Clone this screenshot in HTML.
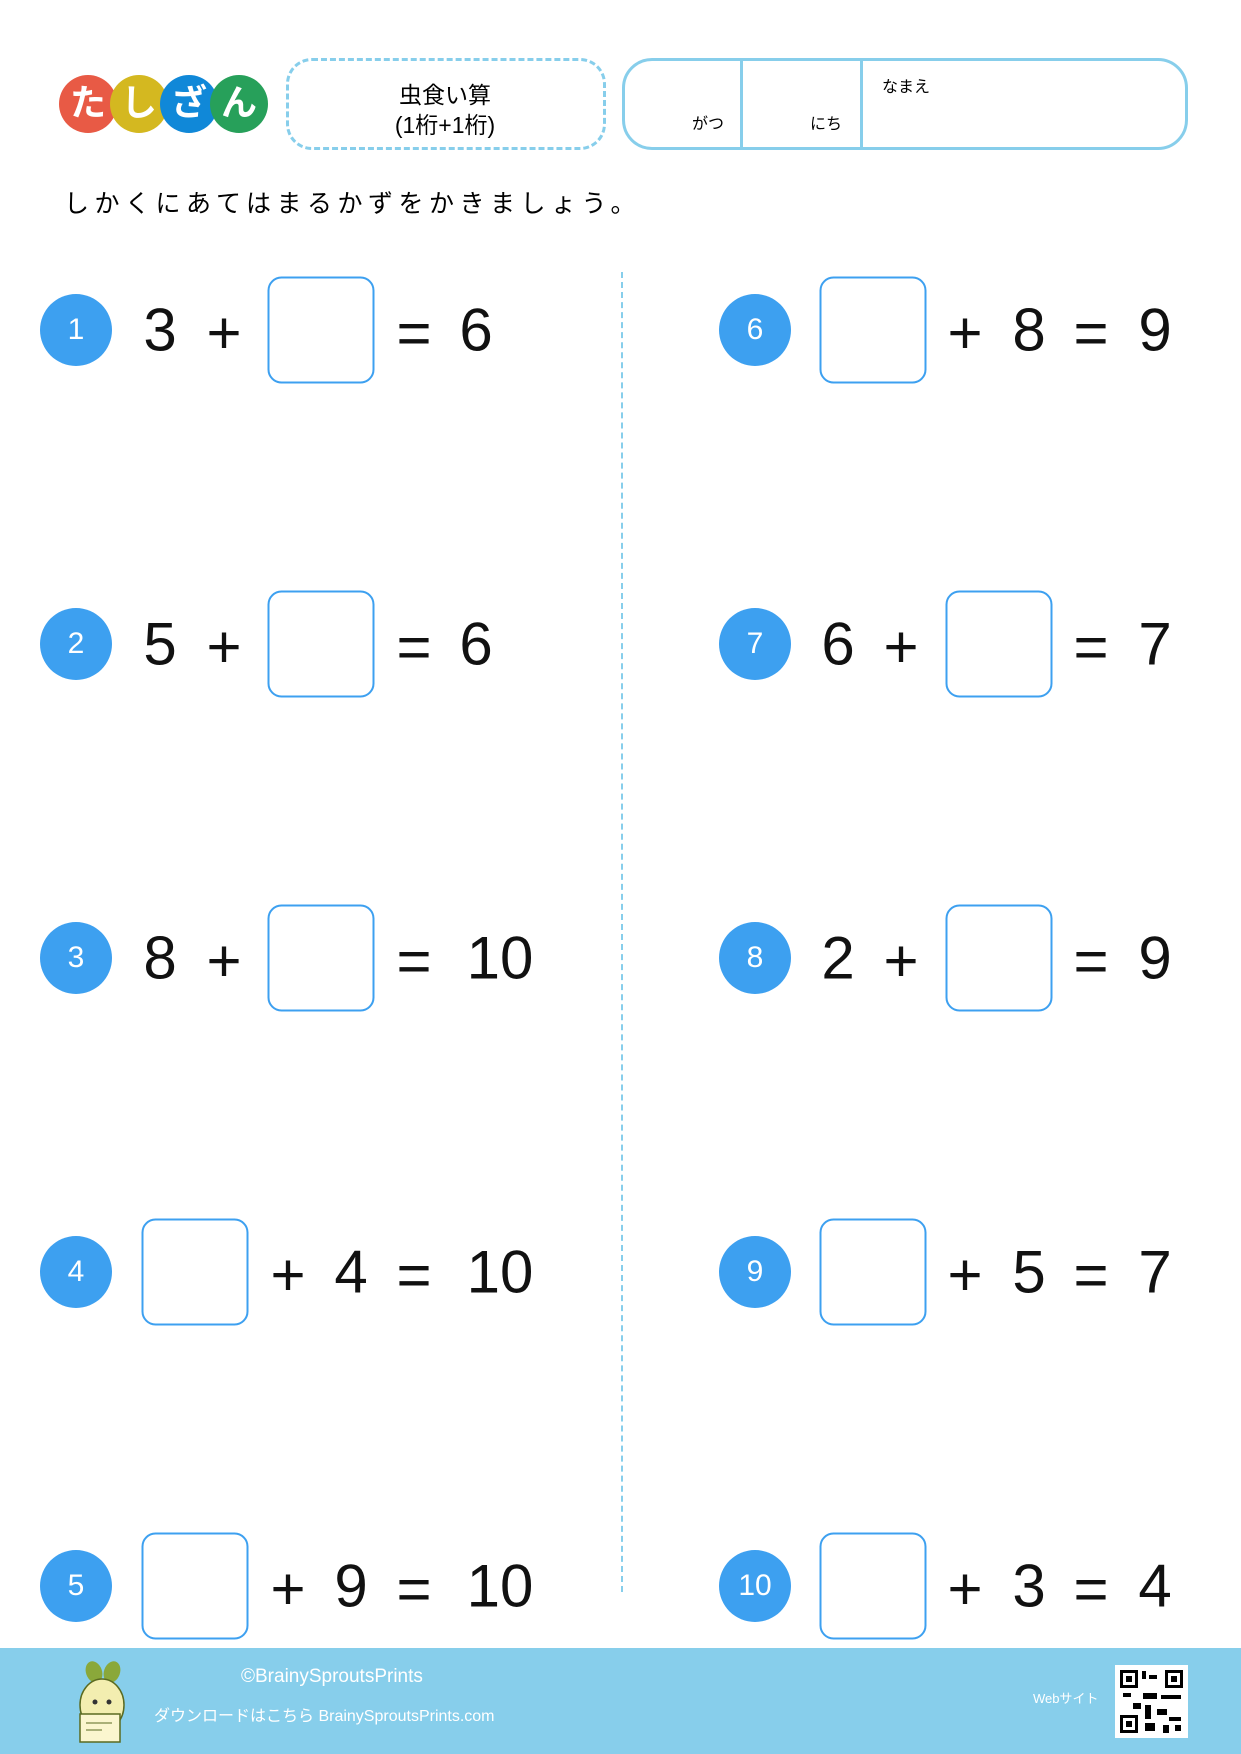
<!DOCTYPE html>
<html><head><meta charset="utf-8"><style>
body{margin:0;width:1241px;height:1754px;position:relative;background:#fff;font-family:"Liberation Sans","Noto Sans CJK JP",sans-serif;overflow:hidden}
.a{position:absolute}
.c{position:absolute;transform:translate(-50%,-50%);white-space:nowrap}
.lg{position:absolute;width:58px;height:58px;border-radius:50%;color:#fff;font-weight:bold;font-size:36px;text-align:center;line-height:56px;top:75px}
.n{position:absolute;width:72px;height:72px;border-radius:50%;background:#3da0f0;color:#fff;font-size:30px;text-align:center;line-height:72px;transform:translate(-50%,-50%)}
.b{position:absolute;width:103px;height:103px;border:2.5px solid #3da0f0;border-radius:14px;transform:translate(-50%,-50%)}
.t{position:absolute;transform:translate(-50%,-50%);font-size:60px;color:#111;white-space:nowrap}
</style></head><body>
<div class="lg" style="left:59px;background:#e85a45">た</div>
<div class="lg" style="left:110px;background:#d4b820">し</div>
<div class="lg" style="left:160px;background:#1088d8">ざ</div>
<div class="lg" style="left:210px;background:#27a05a">ん</div>
<div class="a" style="left:286px;top:58px;width:314px;height:86px;border:3px dashed #87ceeb;border-radius:26px"></div>
<div class="c" style="left:445px;top:93px;font-size:23px">虫食い算</div>
<div class="c" style="left:445px;top:123px;font-size:23px">(1桁+1桁)</div>
<div class="a" style="left:622px;top:58px;width:560px;height:86px;border:3px solid #87ceeb;border-radius:30px"></div>
<div class="a" style="left:740px;top:58px;width:3px;height:92px;background:#87ceeb"></div>
<div class="a" style="left:860px;top:58px;width:3px;height:92px;background:#87ceeb"></div>
<div class="c" style="left:708px;top:122px;font-size:16px">がつ</div>
<div class="c" style="left:826px;top:122px;font-size:16px">にち</div>
<div class="c" style="left:906px;top:85px;font-size:16px">なまえ</div>
<div class="a" style="left:64px;top:184px;font-size:25px;letter-spacing:5.5px">しかくにあてはまるかずをかきましょう。</div>
<div class="a" style="left:621px;top:272px;height:1320px;border-left:2px dashed #87ceeb"></div>

<div class="n" style="left:76px;top:330px">1</div>
<div class="t" style="left:160px;top:330px">3</div><div class="t" style="left:224px;top:333px">+</div>
<div class="b" style="left:321px;top:330px"></div>
<div class="t" style="left:414px;top:333px">=</div><div class="t" style="left:476px;top:330px">6</div>

<div class="n" style="left:76px;top:644px">2</div>
<div class="t" style="left:160px;top:644px">5</div><div class="t" style="left:224px;top:647px">+</div>
<div class="b" style="left:321px;top:644px"></div>
<div class="t" style="left:414px;top:647px">=</div><div class="t" style="left:476px;top:644px">6</div>

<div class="n" style="left:76px;top:958px">3</div>
<div class="t" style="left:160px;top:958px">8</div><div class="t" style="left:224px;top:961px">+</div>
<div class="b" style="left:321px;top:958px"></div>
<div class="t" style="left:414px;top:961px">=</div><div class="t" style="left:500px;top:958px">10</div>

<div class="n" style="left:76px;top:1272px">4</div>
<div class="b" style="left:195px;top:1272px"></div>
<div class="t" style="left:288px;top:1275px">+</div><div class="t" style="left:351px;top:1272px">4</div>
<div class="t" style="left:414px;top:1275px">=</div><div class="t" style="left:500px;top:1272px">10</div>

<div class="n" style="left:76px;top:1586px">5</div>
<div class="b" style="left:195px;top:1586px"></div>
<div class="t" style="left:288px;top:1589px">+</div><div class="t" style="left:351px;top:1586px">9</div>
<div class="t" style="left:414px;top:1589px">=</div><div class="t" style="left:500px;top:1586px">10</div>

<div class="n" style="left:755px;top:330px">6</div>
<div class="b" style="left:873px;top:330px"></div>
<div class="t" style="left:965px;top:333px">+</div><div class="t" style="left:1029px;top:330px">8</div>
<div class="t" style="left:1091px;top:333px">=</div><div class="t" style="left:1155px;top:330px">9</div>

<div class="n" style="left:755px;top:644px">7</div>
<div class="t" style="left:838px;top:644px">6</div><div class="t" style="left:901px;top:647px">+</div>
<div class="b" style="left:999px;top:644px"></div>
<div class="t" style="left:1091px;top:647px">=</div><div class="t" style="left:1155px;top:644px">7</div>

<div class="n" style="left:755px;top:958px">8</div>
<div class="t" style="left:838px;top:958px">2</div><div class="t" style="left:901px;top:961px">+</div>
<div class="b" style="left:999px;top:958px"></div>
<div class="t" style="left:1091px;top:961px">=</div><div class="t" style="left:1155px;top:958px">9</div>

<div class="n" style="left:755px;top:1272px">9</div>
<div class="b" style="left:873px;top:1272px"></div>
<div class="t" style="left:965px;top:1275px">+</div><div class="t" style="left:1029px;top:1272px">5</div>
<div class="t" style="left:1091px;top:1275px">=</div><div class="t" style="left:1155px;top:1272px">7</div>

<div class="n" style="left:755px;top:1586px">10</div>
<div class="b" style="left:873px;top:1586px"></div>
<div class="t" style="left:965px;top:1589px">+</div><div class="t" style="left:1029px;top:1586px">3</div>
<div class="t" style="left:1091px;top:1589px">=</div><div class="t" style="left:1155px;top:1586px">4</div>

<div class="a" style="left:0;top:1648px;width:1241px;height:106px;background:#87ceeb"></div>
<svg class="a" style="left:66px;top:1660px" width="70" height="85" viewBox="0 0 70 85">
<ellipse cx="28" cy="12" rx="8" ry="11" fill="#8aa83a" transform="rotate(-20 28 12)"/>
<ellipse cx="46" cy="12" rx="8" ry="11" fill="#8aa83a" transform="rotate(20 46 12)"/>
<ellipse cx="36" cy="45" rx="22" ry="26" fill="#f3eeb0" stroke="#5a6a20" stroke-width="1.5"/>
<circle cx="29" cy="42" r="2.5" fill="#333"/><circle cx="43" cy="42" r="2.5" fill="#333"/>
<rect x="14" y="54" width="40" height="28" fill="#fbf6cf" stroke="#5a6a20" stroke-width="1.5"/>
<line x1="20" y1="63" x2="46" y2="63" stroke="#5a6a20"/><line x1="20" y1="70" x2="36" y2="70" stroke="#5a6a20"/>
</svg>
<div class="a" style="left:241px;top:1666px;font-size:19px;color:#fff">©BrainySproutsPrints</div>
<div class="a" style="left:154px;top:1702px;font-size:16px;color:#fff">ダウンロードはこちら BrainySproutsPrints.com</div>
<div class="a" style="left:1033px;top:1688px;font-size:13px;color:#fff">Webサイト</div>
<svg class="a" style="left:1115px;top:1665px" width="73" height="73" viewBox="0 0 73 73">
<rect width="73" height="73" fill="#fff"/>
<g fill="#000">
<rect x="5" y="5" width="18" height="18"/><rect x="50" y="5" width="18" height="18"/><rect x="5" y="50" width="18" height="18"/>
</g>
<g fill="#fff"><rect x="8" y="8" width="12" height="12"/><rect x="53" y="8" width="12" height="12"/><rect x="8" y="53" width="12" height="12"/></g>
<g fill="#000"><rect x="11" y="11" width="6" height="6"/><rect x="56" y="11" width="6" height="6"/><rect x="11" y="56" width="6" height="6"/>
<rect x="27" y="6" width="4" height="8"/><rect x="34" y="10" width="8" height="4"/><rect x="28" y="28" width="14" height="6"/><rect x="8" y="28" width="8" height="4"/><rect x="46" y="30" width="20" height="4"/><rect x="30" y="40" width="6" height="14"/><rect x="42" y="44" width="10" height="6"/><rect x="54" y="52" width="12" height="4"/><rect x="30" y="58" width="10" height="8"/><rect x="48" y="60" width="6" height="8"/><rect x="60" y="60" width="6" height="6"/><rect x="18" y="38" width="8" height="6"/></g>
</svg>
</body></html>
